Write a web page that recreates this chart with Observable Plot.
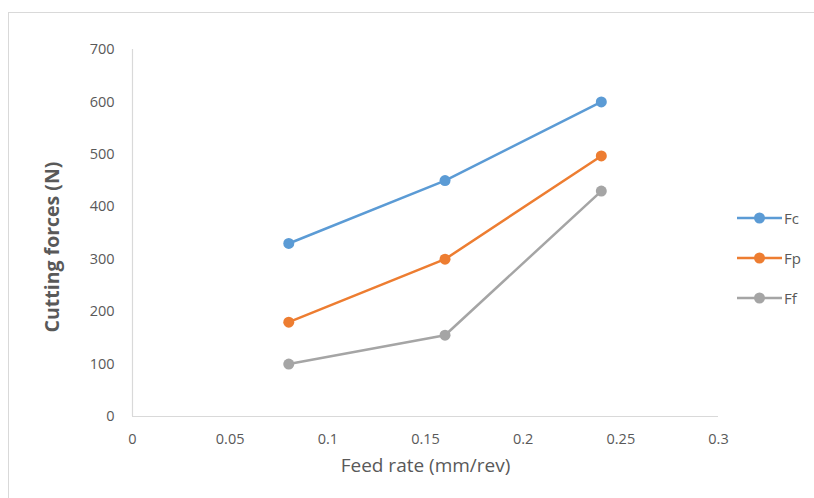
<!DOCTYPE html>
<html>
<head>
<meta charset="utf-8">
<script src="https://cdn.jsdelivr.net/npm/d3@7"></script>
<script src="https://cdn.jsdelivr.net/npm/@observablehq/plot@0.6"></script>
<style>
  html, body { margin: 0; padding: 0; background: #fff; }
  #wrap { position: relative; width: 814px; height: 498px; overflow: hidden; font-family: "Open Sans", "Noto Sans", sans-serif; }
  #border { position: absolute; left: 8px; top: 12px; width: 820px; height: 500px; border: 1.5px solid #d9d9d9; box-sizing: border-box; }
  #chart { position: absolute; left: 0; top: 0; }
  #legend { position: absolute; left: 737px; top: 198px; font-size: 15px; color: #595959; }
  #legend .item { display: flex; align-items: center; height: 40px; }
</style>
</head>
<body>
<div id="wrap">
  <div id="border"></div>
  <div id="chart"></div>
  <div id="legend"></div>
</div>
<script>
const feed = [0.08, 0.16, 0.24];
const fc = [330, 450, 600];
const fp = [180, 300, 497];
const ff = [100, 155, 430];
const seriesNames = ["Fc", "Fp", "Ff"];
const seriesColors = ["#5B9BD5", "#ED7D31", "#A5A5A5"];
const xTicks = [0, 0.05, 0.1, 0.15, 0.2, 0.25, 0.3];
const yTicks = [0, 100, 200, 300, 400, 500, 600, 700];

const seriesValues = [fc, fp, ff];
const data = [];
seriesNames.forEach((s, i) => feed.forEach((f, j) => data.push({series: s, feed: f, force: seriesValues[i][j]})));

const chart = Plot.plot({
  width: 814,
  height: 498,
  marginLeft: 132,
  marginRight: 96,
  marginTop: 49,
  marginBottom: 82,
  style: {fontFamily: "'Open Sans', 'Noto Sans', sans-serif", fontSize: "14.5px", color: "#595959", background: "transparent"},
  x: {domain: [0, 0.3]},
  y: {domain: [0, 700]},
  color: {domain: seriesNames, range: seriesColors},
  marks: [
    Plot.ruleY([0], {stroke: "#d9d9d9", strokeWidth: 1.2}),
    Plot.ruleX([0], {stroke: "#d9d9d9", strokeWidth: 1.2}),
    Plot.axisX({ticks: xTicks, tickFormat: d => String(d), tickSize: 0, tickPadding: 17, label: null, fill: "#595959"}),
    Plot.axisY({ticks: yTicks, tickFormat: d => String(d), tickSize: 0, tickPadding: 18, label: null, fill: "#595959"}),
    Plot.text(["Feed rate (mm/rev)"], {frameAnchor: "bottom", dy: 55, fontSize: 19, fill: "#595959"}),
    Plot.text(["Cutting forces (N)"], {frameAnchor: "left", textAnchor: "middle", dx: -80, dy: 14, rotate: -90, fontSize: 19.5, fontWeight: "bold", fill: "#595959"}),
    Plot.line(data, {x: "feed", y: "force", stroke: "series", z: "series", strokeWidth: 2.5}),
    Plot.dot(data, {x: "feed", y: "force", fill: "series", r: 5.5})
  ]
});
document.getElementById("chart").appendChild(chart);

const legend = document.getElementById("legend");
seriesNames.forEach((s, i) => {
  const item = document.createElement("div");
  item.className = "item";
  item.innerHTML = `<svg width="45" height="14"><line x1="0" y1="7" x2="45" y2="7" stroke="${seriesColors[i]}" stroke-width="2.5"/><circle cx="22.5" cy="7" r="5.5" fill="${seriesColors[i]}"/></svg><span style="margin-left:2px">${s}</span>`;
  legend.appendChild(item);
});
</script>
</body>
</html>
